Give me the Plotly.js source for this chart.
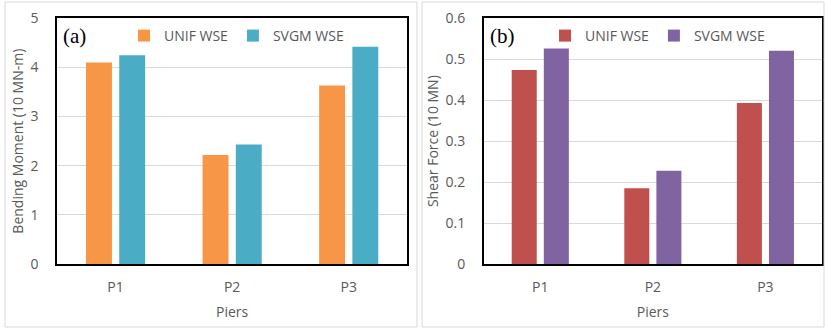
<!DOCTYPE html>
<html><head><meta charset="utf-8">
<script src="https://cdn.plot.ly/plotly-3.0.1.min.js"></script>
<style>body{margin:0;background:#fff}#c{width:825px;height:328px}</style>
</head><body><div id="c"></div>
<script>
const piers = ["P1", "P2", "P3"];
const momentUnif = [4.10, 2.22, 3.63];
const momentSvgm = [4.25, 2.43, 4.42];
const shearUnif = [0.474, 0.185, 0.393];
const shearSvgm = [0.526, 0.228, 0.521];

const F = "Open Sans, sans-serif";
const gray = "#595959";
const traces = [
  {type:"bar", x:piers, y:momentUnif, name:"UNIF WSE", marker:{color:"#F79646"}, xaxis:"x", yaxis:"y", legend:"legend"},
  {type:"bar", x:piers, y:momentSvgm, name:"SVGM WSE", marker:{color:"#4BACC6"}, xaxis:"x", yaxis:"y", legend:"legend"},
  {type:"bar", x:piers, y:shearUnif, name:"UNIF WSE", marker:{color:"#C0504D"}, xaxis:"x2", yaxis:"y2", legend:"legend2"},
  {type:"bar", x:piers, y:shearSvgm, name:"SVGM WSE", marker:{color:"#8064A2"}, xaxis:"x2", yaxis:"y2", legend:"legend2"}
];
const xa = (dom, anchor) => ({domain:dom, anchor:anchor, showline:true, mirror:"all", linecolor:"rgb(0,0,0)", linewidth:2,
  ticks:"", tickfont:{family:F, size:14, color:gray}, ticklabelstandoff:9,
  title:{text:"Piers", font:{family:F, size:14, color:gray}, standoff:12}, fixedrange:true});
const ya = (dom, anchor, range, dtick, title) => ({domain:dom, anchor:anchor, range:range, dtick:dtick,
  showline:true, mirror:"all", linecolor:"rgb(0,0,0)", linewidth:2,
  gridcolor:"#d9d9d9", gridwidth:1, zeroline:false, ticks:"",
  tickfont:{family:F, size:14, color:gray}, ticklabelstandoff:14,
  title:{text:title, font:{family:F, size:14, color:gray}, standoff:4}, fixedrange:true});
const yd = [1-264/328, 1-18.3/328];
const legendCommon = {orientation:"h", yref:"paper", xref:"paper", yanchor:"middle", xanchor:"left",
  font:{family:F, size:14, color:gray}, bgcolor:"rgba(0,0,0,0)", itemwidth:30};
const layout = {
  width:825, height:328, margin:{l:0,r:0,t:0,b:0}, paper_bgcolor:"#fff", plot_bgcolor:"#fff",
  bargap:0.43, bargroupgap:0.22, barmode:"group", showlegend:true,
  xaxis: xa([57.3/825, 407/825], "y"),
  yaxis: ya(yd, "x", [0,5], 1, "Bending Moment (10 MN-m)"),
  xaxis2: xa([484/825, 821.7/825], "y2"),
  yaxis2: ya(yd, "x2", [0,0.6], 0.1, "Shear Force (10 MN)"),
  legend: Object.assign({}, legendCommon, {x:124/825, y:1-36/328}),
  legend2: Object.assign({}, legendCommon, {x:545/825, y:1-36/328}),
  shapes:[
    {type:"rect", xref:"paper", yref:"paper", x0:5/825, x1:417/825, y0:1-327/328, y1:1-2/328, line:{color:"#d9d9d9", width:1}},
    {type:"rect", xref:"paper", yref:"paper", x0:422/825, x1:824/825, y0:1-327/328, y1:1-2/328, line:{color:"#d9d9d9", width:1}}
  ],
  annotations:[
    {text:"(a)", xref:"paper", yref:"paper", x:61/825, y:1-36/328, xanchor:"left", yanchor:"middle", showarrow:false,
      font:{family:"Liberation Serif, serif", size:21, color:"#000"}},
    {text:"(b)", xref:"paper", yref:"paper", x:488/825, y:1-36/328, xanchor:"left", yanchor:"middle", showarrow:false,
      font:{family:"Liberation Serif, serif", size:21, color:"#000"}}
  ]
};
Plotly.newPlot("c", traces, layout, {displayModeBar:false, staticPlot:true});
</script></body></html>
